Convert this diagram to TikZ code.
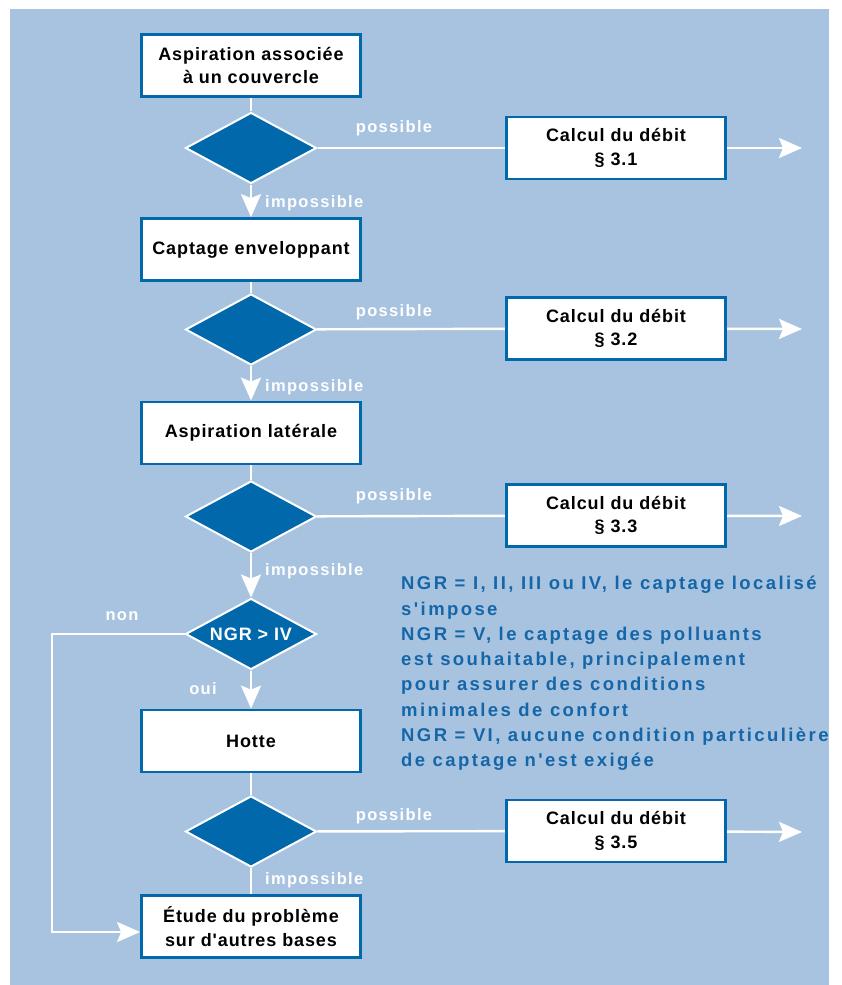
\documentclass[tikz,border=0pt]{standalone}
\usepackage{fontspec}
\setmainfont{Liberation Sans}
\newfontfamily\boxfont[LetterSpace=5]{Liberation Sans}
\newfontfamily\notefont[LetterSpace=13]{Liberation Sans}
\newfontfamily\labfont[LetterSpace=8]{Liberation Sans}
\usetikzlibrary{shapes.geometric,arrows.meta}
\definecolor{bgblue}{HTML}{A8C3E0}
\definecolor{dblue}{HTML}{0068AB}
\definecolor{tblue}{HTML}{1466A8}
\pgfdeclarelayer{bglayer}
\pgfdeclarelayer{conlayer}
\pgfsetlayers{bglayer,conlayer,main}
\begin{document}
\begin{tikzpicture}[x=1pt,y=-1pt,
  every node/.style={inner sep=0pt},
  box/.style={draw=dblue, line width=2.8pt, fill=white, minimum width=219pt, minimum height=62pt, align=center, font=\boxfont\bfseries\fontsize{18}{23.5}\selectfont},
  dia/.style={diamond, aspect=1.84, fill=dblue, draw=white, line width=2pt, minimum width=131pt, minimum height=71pt, text=white, font=\boxfont\bfseries\fontsize{18}{22}\selectfont},
  lab/.style={text=white, font=\labfont\bfseries\fontsize{16.5}{20}\selectfont},
  con/.style={draw=white, line width=2.4pt},
  arr/.style={con, -{Stealth[length=23pt,width=20pt,inset=4pt]}},
]
\useasboundingbox (0,0) rectangle (842,985);
\begin{pgfonlayer}{bglayer}
\fill[bgblue] (10,9) rectangle (829,985);
\end{pgfonlayer}

% main column
\node[box] (b1) at (251,65.5) {Aspiration associée\\à un couvercle};
\node[dia] (d1) at (251,148) {};
\node[box] (c1) at (616,148) {Calcul du débit\\§ 3.1};
\node[box] (b2) at (251,249.5) {Captage enveloppant};
\node[dia] (d2) at (251,329.5) {};
\node[box] (c2) at (616,328.5) {Calcul du débit\\§ 3.2};
\node[box] (b3) at (251,433) {Aspiration latérale};
\node[dia] (d3) at (251,516.5) {};
\node[box] (c3) at (616,515.5) {Calcul du débit\\§ 3.3};
\node[dia] (d4) at (251,634) {NGR > IV};
\node[box] (b4) at (251,741) {Hotte};
\node[dia] (d5) at (251,831.5) {};
\node[box] (c5) at (616,831) {Calcul du débit\\§ 3.5};
\node[box] (b5) at (251,926.5) {Étude du problème\\sur d'autres bases};

\coordinate (e1) at (802,148);
\coordinate (e2) at (802,329);
\coordinate (e3) at (802,516);
\coordinate (e5) at (802,832);
\coordinate (n1) at (52,634);
\coordinate (n2) at (52,932);

\begin{pgfonlayer}{conlayer}
\draw[con] (b1) -- (d1);
\draw[arr] (d1) -- (b2);
\draw[con] (d1) -- (c1);
\draw[arr] (c1) -- (e1);
\draw[con] (b2) -- (d2);
\draw[arr] (d2) -- (b3);
\draw[con] (d2) -- (c2);
\draw[arr] (c2) -- (e2);
\draw[con] (b3) -- (d3);
\draw[arr] (d3) -- (d4);
\draw[con] (d3) -- (c3);
\draw[arr] (c3) -- (e3);
\draw[arr] (d4) -- (b4);
\draw[arr] (d4.west) -- (n1) -- (n2) -- (b5.west |- n2);
\draw[con] (b4) -- (d5);
\draw[con] (d5) -- (c5);
\draw[arr] (c5) -- (e5);
\draw[con] (d5) -- (b5);
\end{pgfonlayer}

% labels
\node[lab] (p1) at (394,128) {possible};
\node[lab] (p2) at (394,312) {possible};
\node[lab] (p3) at (394,496) {possible};
\node[lab] (p5) at (394,816) {possible};
\node[lab, anchor=west] (i1) at (265,203) {impossible};
\node[lab, anchor=west] (i2) at (265,387) {impossible};
\node[lab, anchor=west] (i3) at (265,571) {impossible};
\node[lab, anchor=west] (i5) at (265,880) {impossible};
\node[lab] (non) at (122,616) {non};
\node[lab] (oui) at (203,689) {oui};

\node[anchor=north west, align=left, text=tblue, font=\notefont\bfseries\fontsize{18.5}{25.3}\selectfont] (note) at (401,576)
 {NGR = I, II, III ou IV, le captage localisé\\
  s'impose\\
  NGR = V, le captage des polluants\\
  est souhaitable, principalement\\
  pour assurer des conditions\\
  minimales de confort\\
  NGR = VI, aucune condition particulière\\
  de captage n'est exigée};
\end{tikzpicture}
\end{document}
